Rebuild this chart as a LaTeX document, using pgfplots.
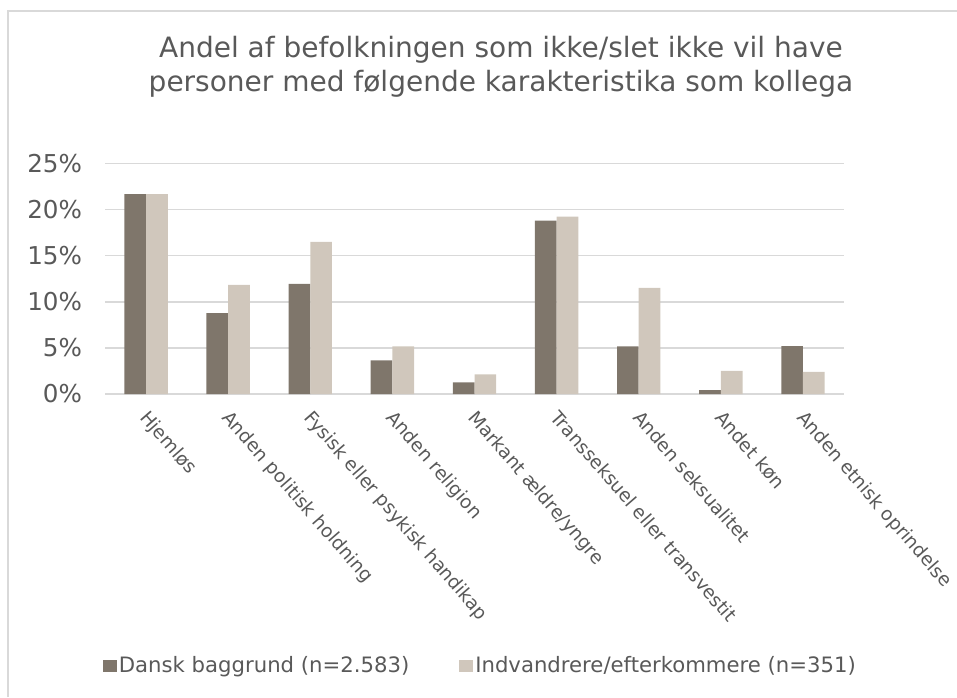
\documentclass[border=0pt]{standalone}
\usepackage{pgfplots}
\pgfplotsset{compat=1.18}
\usepackage{fontspec}
\setmainfont{DejaVu Sans}
\definecolor{dansk}{HTML}{7F766B}
\definecolor{indv}{HTML}{D0C7BC}
\definecolor{txt}{HTML}{595959}
\definecolor{gridc}{HTML}{D9D9D9}

\begin{document}
\begin{tikzpicture}
\draw[gridc, line width=0.6pt] (4pt,0pt) -- (4pt,343pt) -- (478.5pt,343pt);
\node[text=txt, align=center, font=\fontsize{14pt}{17pt}\selectfont] at (250.5pt,315pt)
  {Andel af befolkningen som ikke/slet ikke vil have\\personer med følgende karakteristika som kollega};
\begin{axis}[
    at={(52.5pt,151.5pt)}, anchor=south west,
    scale only axis,
    width=369.5pt, height=115.2pt,
    ybar=0pt, bar width=10.85pt,
    xmin=-0.5, xmax=8.5,
    ymin=0, ymax=25,
    axis line style={draw=none},
    tick style={draw=none},
    ymajorgrids,
    grid style={gridc, line width=0.7pt},
    ytick={0,5,10,15,20,25},
    yticklabels={0\%,5\%,10\%,15\%,20\%,25\%},
    yticklabel style={text=txt, font=\fontsize{12.3pt}{14pt}\selectfont, xshift=-8pt},
    xtick=data,
    xticklabels={Hjemløs, Anden politisk holdning, Fysisk eller psykisk handikap,
      Anden religion, Markant ældre/yngre, Transseksuel eller transvestit,
      Anden seksualitet, Andet køn, Anden etnisk oprindelse},
    xticklabel style={text=txt, font=\fontsize{9.3pt}{11pt}\selectfont,
      xshift=2pt, yshift=-3pt, rotate=-49, anchor=north west, inner sep=0pt},
    legend columns=2,
    legend style={at={(0.508,-1.18)}, anchor=center, draw=none, fill=none,
      text=txt, font=\fontsize{10.6pt}{13pt}\selectfont,
      nodes={inner sep=1pt},
      /tikz/every even column/.append style={column sep=24pt},
      /tikz/every odd column/.append style={column sep=0pt}},
    legend image code/.code={\fill[#1] (0pt,-2.9pt) rectangle (7pt,2.9pt);},
]
\addplot[fill=dansk, draw=none] coordinates {
  (0,21.7) (1,8.77) (2,11.96) (3,3.66) (4,1.27) (5,18.8) (6,5.18) (7,0.43) (8,5.2)};
\addlegendentry{Dansk baggrund (n=2.583)}
\addplot[fill=indv, draw=none] coordinates {
  (0,21.7) (1,11.85) (2,16.5) (3,5.18) (4,2.14) (5,19.24) (6,11.52) (7,2.5) (8,2.4)};
\addlegendentry{Indvandrere/efterkommere (n=351)}
\end{axis}
\pgfresetboundingbox
\path (0pt,0pt) rectangle (478.5pt,348.5pt);
\end{tikzpicture}
\end{document}
